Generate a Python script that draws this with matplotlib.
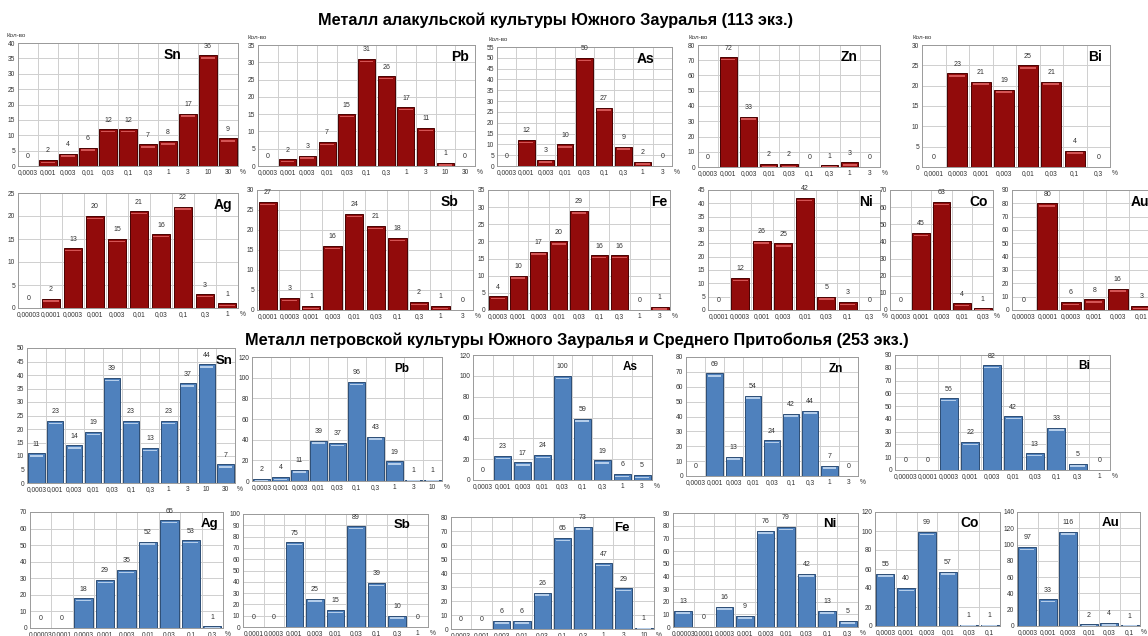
import matplotlib.pyplot as plt
from matplotlib.ticker import MultipleLocator

plt.rcParams['font.family'] = ['Liberation Sans', 'DejaVu Sans']

W, H = 1148, 636

# --- Alakul culture metal (113 samples) ---
sn_a_cats = ['0,0003', '0,001', '0,003', '0,01', '0,03', '0,1', '0,3', '1', '3', '10', '30']
sn_a_vals = [0, 2, 4, 6, 12, 12, 7, 8, 17, 36, 9]
pb_a_cats = ['0,0003', '0,001', '0,003', '0,01', '0,03', '0,1', '0,3', '1', '3', '10', '30']
pb_a_vals = [0, 2, 3, 7, 15, 31, 26, 17, 11, 1, 0]
as_a_cats = ['0,0003', '0,001', '0,003', '0,01', '0,03', '0,1', '0,3', '1', '3']
as_a_vals = [0, 12, 3, 10, 50, 27, 9, 2, 0]
zn_a_cats = ['0,0003', '0,001', '0,003', '0,01', '0,03', '0,1', '0,3', '1', '3']
zn_a_vals = [0, 72, 33, 2, 2, 0, 1, 3, 0]
bi_a_cats = ['0,0001', '0,0003', '0,001', '0,003', '0,01', '0,03', '0,1', '0,3']
bi_a_vals = [0, 23, 21, 19, 25, 21, 4, 0]
ag_a_cats = ['0,00003', '0,0001', '0,0003', '0,001', '0,003', '0,01', '0,03', '0,1', '0,3', '1']
ag_a_vals = [0, 2, 13, 20, 15, 21, 16, 22, 3, 1]
sb_a_cats = ['0,0001', '0,0003', '0,001', '0,003', '0,01', '0,03', '0,1', '0,3', '1', '3']
sb_a_vals = [27, 3, 1, 16, 24, 21, 18, 2, 1, 0]
fe_a_cats = ['0,0003', '0,001', '0,003', '0,01', '0,03', '0,1', '0,3', '1', '3']
fe_a_vals = [4, 10, 17, 20, 29, 16, 16, 0, 1]
ni_a_cats = ['0,0001', '0,0003', '0,001', '0,003', '0,01', '0,03', '0,1', '0,3']
ni_a_vals = [0, 12, 26, 25, 42, 5, 3, 0]
co_a_cats = ['0,0003', '0,001', '0,003', '0,01', '0,03']
co_a_vals = [0, 45, 63, 4, 1]
au_a_cats = ['0,00003', '0,0001', '0,0003', '0,001', '0,003', '0,01']
au_a_vals = [0, 80, 6, 8, 16, 3]

# --- Petrovka culture metal (253 samples) ---
sn_p_cats = ['0,0003', '0,001', '0,003', '0,01', '0,03', '0,1', '0,3', '1', '3', '10', '30']
sn_p_vals = [11, 23, 14, 19, 39, 23, 13, 23, 37, 44, 7]
pb_p_cats = ['0,0003', '0,001', '0,003', '0,01', '0,03', '0,1', '0,3', '1', '3', '10']
pb_p_vals = [2, 4, 11, 39, 37, 96, 43, 19, 1, 1]
as_p_cats = ['0,0003', '0,001', '0,003', '0,01', '0,03', '0,1', '0,3', '1', '3']
as_p_vals = [0, 23, 17, 24, 100, 59, 19, 6, 5]
zn_p_cats = ['0,0003', '0,001', '0,003', '0,01', '0,03', '0,1', '0,3', '1', '3']
zn_p_vals = [0, 69, 13, 54, 24, 42, 44, 7, 0]
bi_p_cats = ['0,00003', '0,0001', '0,0003', '0,001', '0,003', '0,01', '0,03', '0,1', '0,3', '1']
bi_p_vals = [0, 0, 56, 22, 82, 42, 13, 33, 5, 0]
ag_p_cats = ['0,00003', '0,0001', '0,0003', '0,001', '0,003', '0,01', '0,03', '0,1', '0,3']
ag_p_vals = [0, 0, 18, 29, 35, 52, 65, 53, 1]
sb_p_cats = ['0,0001', '0,0003', '0,001', '0,003', '0,01', '0,03', '0,1', '0,3', '1']
sb_p_vals = [0, 0, 75, 25, 15, 89, 39, 10, 0]
fe_p_cats = ['0,0003', '0,001', '0,003', '0,01', '0,03', '0,1', '0,3', '1', '3', '10']
fe_p_vals = [0, 0, 6, 6, 26, 65, 73, 47, 29, 1]
ni_p_cats = ['0,00003', '0,0001', '0,0003', '0,001', '0,003', '0,01', '0,03', '0,1', '0,3']
ni_p_vals = [13, 0, 16, 9, 76, 79, 42, 13, 5]
co_p_cats = ['0,0003', '0,001', '0,003', '0,01', '0,03', '0,1']
co_p_vals = [55, 40, 99, 57, 1, 1]
au_p_cats = ['0,0003', '0,001', '0,003', '0,01', '0,03', '0,1']
au_p_vals = [97, 33, 116, 2, 4, 1]

RED = dict(face='#920b0b', edge='#4a0000', hi='#d45555')
BLUE = dict(face='#4f81bd', edge='#2c4d75', hi='#b4cdea')

fig = plt.figure(figsize=(W / 100, H / 100), dpi=100)


def panel(px, cats, vals, ymax, ystep, name, col, lab_x, kolvo=False, pct=True, nslots=None, lab_size=10):
    x0, x1, yt, yb = px
    ax = fig.add_axes([x0 / W, 1 - yb / H, (x1 - x0) / W, (yb - yt) / H])
    n = nslots or len(cats)
    xs = list(range(len(vals)))
    ax.bar(xs, vals, width=0.86, color=col['face'], edgecolor=col['edge'], linewidth=0.7, zorder=3)
    hi = ymax * 0.012
    ax.bar(xs, [hi if v > 0 else 0 for v in vals], bottom=[max(v - hi * 2.2, 0) for v in vals],
           width=0.7, color=col['hi'], linewidth=0, zorder=4)
    for x, v in zip(xs, vals):
        ax.annotate(str(v), (x, v), xytext=(0, 4), textcoords='offset points',
                    ha='center', va='bottom', fontsize=5, color='#333333')
    ax.set_xlim(-0.5, n - 0.5)
    ax.set_ylim(0, ymax)
    ax.yaxis.set_major_locator(MultipleLocator(ystep))
    ax.set_xticks(range(len(cats)))
    ax.set_xticklabels(cats)
    ax.set_xticks([i + 0.5 for i in range(n - 1)], minor=True)
    ax.grid(axis='y', which='major', color='#cfcfcf', lw=0.7, zorder=0)
    ax.grid(axis='x', which='minor', color='#cfcfcf', lw=0.7, zorder=0)
    ax.tick_params(axis='both', which='both', length=0, labelsize=4.8, pad=2, colors='#333333')
    for s in ax.spines.values():
        s.set_color('#9a9a9a')
        s.set_linewidth(0.7)
    ax.text(lab_x, 0.9, name, transform=ax.transAxes, ha='center', va='center',
            fontsize=lab_size, fontweight='bold', color='black', zorder=5)
    if pct:
        ax.text(1.01, -0.025, '%', transform=ax.transAxes, ha='left', va='top',
                fontsize=4.8, color='#333333')
    if kolvo:
        ax.text(-0.05, 1.04, 'Кол-во', transform=ax.transAxes, ha='left', va='bottom',
                fontsize=4.5, color='#333333')
    return ax


fig.text(555 / W, 1 - 20 / H, 'Металл алакульской культуры Южного Зауралья (113 экз.)',
         ha='center', va='center', fontsize=11.7, fontweight='bold')
fig.text(577 / W, 1 - 340 / H, 'Металл петровской культуры Южного Зауралья и Среднего Притоболья (253 экз.)',
         ha='center', va='center', fontsize=11.7, fontweight='bold')

# row 1
panel((18, 238, 43, 166), sn_a_cats, sn_a_vals, 40, 5, 'Sn', RED, 0.70, kolvo=True)
panel((258, 475, 45, 166), pb_a_cats, pb_a_vals, 35, 5, 'Pb', RED, 0.93, kolvo=True)
panel((497, 672, 47, 166), as_a_cats, as_a_vals, 55, 5, 'As', RED, 0.85, kolvo=True)
panel((698, 880, 45, 167), zn_a_cats, zn_a_vals, 80, 10, 'Zn', RED, 0.83, kolvo=True)
panel((922, 1110, 45, 167), bi_a_cats, bi_a_vals, 30, 5, 'Bi', RED, 0.92, kolvo=True)

# row 2
panel((18, 238, 193, 308), ag_a_cats, ag_a_vals, 25, 5, 'Ag', RED, 0.93)
panel((257, 473, 190, 310), sb_a_cats, sb_a_vals, 30, 5, 'Sb', RED, 0.89)
panel((488, 670, 190, 310), fe_a_cats, fe_a_vals, 35, 5, 'Fe', RED, 0.94)
panel((708, 880, 190, 310), ni_a_cats, ni_a_vals, 45, 5, 'Ni', RED, 0.92)
panel((890, 993, 190, 310), co_a_cats, co_a_vals, 70, 10, 'Co', RED, 0.86)
panel((1012, 1200, 190, 310), au_a_cats, au_a_vals, 90, 10, 'Au', RED, 0.68, pct=False, nslots=8)

# row 3
panel((27, 235, 348, 483), sn_p_cats, sn_p_vals, 50, 5, 'Sn', BLUE, 0.95, lab_size=9.5)
panel((252, 442, 357, 481), pb_p_cats, pb_p_vals, 120, 20, 'Pb', BLUE, 0.79, lab_size=8.5)
panel((473, 652, 355, 480), as_p_cats, as_p_vals, 120, 20, 'As', BLUE, 0.88, lab_size=8.5)
panel((686, 858, 357, 476), zn_p_cats, zn_p_vals, 80, 10, 'Zn', BLUE, 0.87, lab_size=8.5)
panel((895, 1110, 355, 470), bi_p_cats, bi_p_vals, 90, 10, 'Bi', BLUE, 0.88, lab_size=8.5)

# row 4
panel((30, 223, 512, 628), ag_p_cats, ag_p_vals, 70, 10, 'Ag', BLUE, 0.93, lab_size=9.5)
panel((243, 428, 514, 627), sb_p_cats, sb_p_vals, 100, 10, 'Sb', BLUE, 0.86, lab_size=9.5)
panel((451, 654, 517, 629), fe_p_cats, fe_p_vals, 80, 10, 'Fe', BLUE, 0.84, lab_size=9.5)
panel((673, 858, 513, 627), ni_p_cats, ni_p_vals, 90, 10, 'Ni', BLUE, 0.85, lab_size=9.5)
panel((875, 1000, 512, 626), co_p_cats, co_p_vals, 120, 20, 'Co', BLUE, 0.76, pct=False, lab_size=10)
panel((1017, 1140, 512, 626), au_p_cats, au_p_vals, 140, 20, 'Au', BLUE, 0.76, lab_size=9.5)

fig.savefig('out.png', dpi=100, facecolor='white')
